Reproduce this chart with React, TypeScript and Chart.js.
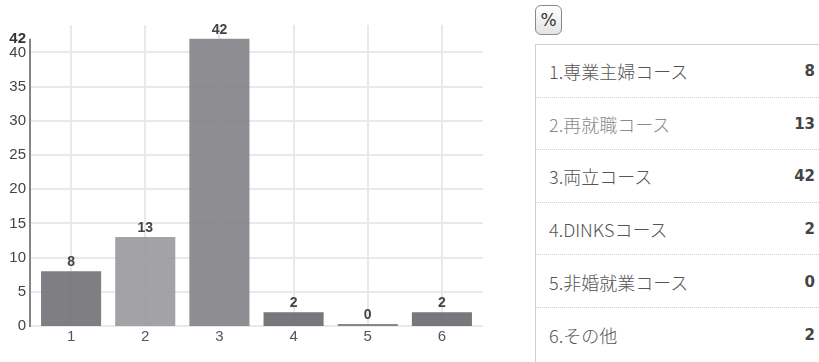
import React, { useEffect, useRef } from "react";
import { Chart, registerables } from "chart.js";

Chart.register(...registerables);

// Survey answers: course number, its label and the count of responses
const categories: string[] = ["1", "2", "3", "4", "5", "6"];
const counts: number[] = [8, 13, 42, 2, 0, 2];
const courseNames: string[] = [
  "1.専業主婦コース",
  "2.再就職コース",
  "3.両立コース",
  "4.DINKSコース",
  "5.非婚就業コース",
  "6.その他",
];
const yTicks: number[] = [0, 5, 10, 15, 20, 25, 30, 35, 40, 42];
const yTop = 42;

const barColors = [
  "rgba(112,112,117,0.9)",
  "rgba(152,152,157,0.9)",
  "rgba(129,129,134,0.9)",
  "rgba(105,105,110,0.9)",
  "rgba(122,122,127,0.9)",
  "rgba(105,105,110,0.9)",
];

const GRID = "#e9e9eb";

// Horizontal grid lines that run slightly past the plot edges
const hGridPlugin = {
  id: "hGrid",
  beforeDatasetsDraw(chart: any) {
    const { ctx, chartArea, scales } = chart;
    const y = scales.y;
    ctx.save();
    ctx.strokeStyle = GRID;
    ctx.lineWidth = 2;
    yTicks.forEach((v) => {
      if (v % 5 !== 0) return;
      const py = Math.round(y.getPixelForValue(v));
      ctx.beginPath();
      ctx.moveTo(chartArea.left - 4, py);
      ctx.lineTo(chartArea.right + 4, py);
      ctx.stroke();
    });
    ctx.restore();
  },
};

// Dark value axis from zero up to the top value, and value labels over bars
const axisAndLabelsPlugin = {
  id: "axisAndLabels",
  afterDatasetsDraw(chart: any) {
    const { ctx, chartArea, scales } = chart;
    const y = scales.y;
    ctx.save();
    ctx.strokeStyle = "#858589";
    ctx.lineWidth = 2;
    ctx.beginPath();
    ctx.moveTo(chartArea.left - 4, y.getPixelForValue(0) + 1);
    ctx.lineTo(chartArea.left - 4, y.getPixelForValue(yTop));
    ctx.stroke();

    const meta = chart.getDatasetMeta(0);
    ctx.fillStyle = "#444";
    ctx.font = "bold 14px 'Liberation Sans', Arial, sans-serif";
    ctx.textAlign = "center";
    ctx.textBaseline = "alphabetic";
    meta.data.forEach((bar: any, i: number) => {
      ctx.fillText(String(counts[i]), bar.x, bar.y - 5);
    });
    ctx.restore();
  },
};

function BarChart() {
  const ref = useRef<HTMLCanvasElement | null>(null);
  useEffect(() => {
    if (!ref.current) return;
    const chart = new Chart(ref.current, {
      type: "bar",
      data: {
        labels: categories,
        datasets: [
          {
            data: counts,
            backgroundColor: barColors,
            borderWidth: 0,
            minBarLength: 2,
            barPercentage: 0.81,
            categoryPercentage: 1,
          },
        ],
      },
      options: {
        animation: false,
        responsive: false,
        layout: { padding: { top: 25, right: 21, left: 0, bottom: 0 } },
        plugins: { legend: { display: false }, tooltip: { enabled: false } },
        scales: {
          x: {
            grid: { offset: false, color: GRID, lineWidth: 2, drawTicks: false },
            border: { display: true, color: GRID, width: 2 },
            ticks: {
              color: "#555",
              padding: 2,
              font: { family: "'Liberation Sans', Arial, sans-serif", size: 15 },
            },
            afterFit(scale: any) {
              scale.height = 36;
            },
          },
          y: {
            min: 0,
            max: 44,
            grid: { display: false, drawTicks: false },
            border: { display: false },
            afterBuildTicks(scale: any) {
              scale.ticks = yTicks.map((v) => ({ value: v }));
            },
            ticks: {
              autoSkip: false,
              padding: 8,
              color: (c: any) => (c.tick && c.tick.value === yTop ? "#333" : "#444"),
              font: (c: any) => ({
                family: "'Liberation Sans', Arial, sans-serif",
                size: 15,
                weight: c.tick && c.tick.value === yTop ? "bold" : "normal",
              }),
            },
            afterFit(scale: any) {
              scale.width = 34;
            },
          },
        },
      },
      plugins: [hGridPlugin, axisAndLabelsPlugin],
    });
    return () => chart.destroy();
  }, []);
  return (
    <canvas
      ref={ref}
      width={500}
      height={362}
      style={{ position: "absolute", left: 0, top: 0, width: 500, height: 362 }}
    />
  );
}

function CountTable() {
  const rowTop = 45;
  const rowStep = 52.6;
  return (
    <>
      <div
        style={{
          position: "absolute",
          left: 535,
          top: 5,
          width: 27,
          height: 30,
          border: "1px solid #8a8a8a",
          borderRadius: 6,
          background: "linear-gradient(#ffffff, #e4e4e4)",
          fontFamily: "'DejaVu Sans', sans-serif",
          fontSize: 17,
          color: "#333",
          display: "flex",
          alignItems: "center",
          justifyContent: "center",
          boxSizing: "border-box",
        }}
      >
        %
      </div>
      <div
        style={{
          position: "absolute",
          left: 535,
          top: 44,
          width: 284,
          height: 318,
          borderTop: "1px solid #cfcfcf",
          borderLeft: "1px solid #cfcfcf",
          boxSizing: "border-box",
        }}
      />
      {courseNames.map((name, i) => (
        <div
          key={name}
          style={{
            position: "absolute",
            left: 536,
            top: rowTop + i * rowStep,
            width: 283,
            height: rowStep,
            borderBottom: i < courseNames.length - 1 ? "1px dotted #cfcfcf" : "none",
            boxSizing: "border-box",
            display: "flex",
            alignItems: "center",
            justifyContent: "space-between",
            paddingTop: 1,
          }}
        >
          <span
            style={{
              marginLeft: 13,
              fontFamily: "'Noto Sans CJK JP', 'Noto Sans', sans-serif",
              fontWeight: 300,
              fontSize: 18,
              color: i === 1 ? "#8a8a8a" : "#555",
            }}
          >
            {name}
          </span>
          <span
            style={{
              marginRight: 4,
              fontFamily: "'DejaVu Sans', sans-serif",
              fontWeight: "bold",
              fontSize: 15,
              color: "#444",
            }}
          >
            {counts[i]}
          </span>
        </div>
      ))}
    </>
  );
}

export default function App() {
  return (
    <div
      style={{
        position: "fixed",
        left: 0,
        top: 0,
        width: 819,
        height: 362,
        background: "#fff",
        overflow: "hidden",
      }}
    >
      <BarChart />
      <CountTable />
    </div>
  );
}
